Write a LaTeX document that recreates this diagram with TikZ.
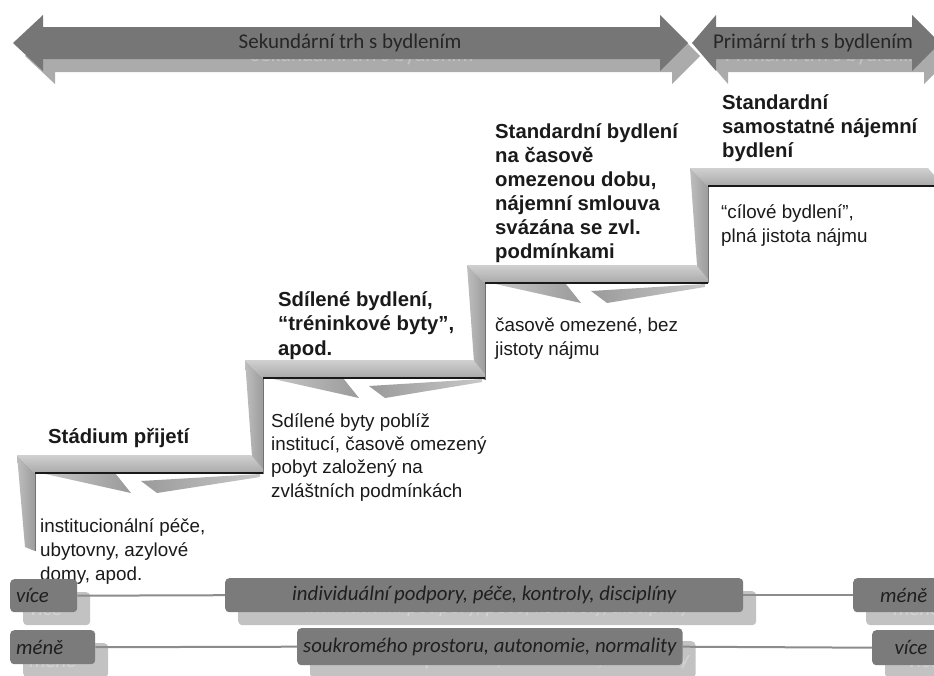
\documentclass[tikz,border=0pt]{standalone}
\usepackage{fontspec}
\setmainfont{Liberation Sans}
\newfontfamily\calib{Carlito}
\definecolor{arrdark}{HTML}{767676}
\definecolor{arrlight}{HTML}{ABABAB}
\definecolor{arrghost}{HTML}{C4C4C4}
\definecolor{boxdark}{HTML}{7B7B7B}
\definecolor{boxlight}{HTML}{C2C2C2}
\definecolor{boxghost}{HTML}{D4D4D4}
\definecolor{bandtop}{HTML}{D0D0D0}
\definecolor{bandbot}{HTML}{A9A9A9}
\definecolor{bartl}{HTML}{BEBEBE}
\definecolor{bartr}{HTML}{9C9C9C}
\definecolor{flapA}{HTML}{C8C8C8}
\definecolor{flapB}{HTML}{9A9A9A}
\definecolor{linegrey}{HTML}{8C8C8C}
\definecolor{txt}{HTML}{1A1A1A}
\newcommand\stairbar[4]{%
  \shade[left color=bartl, right color=bartr] (#1,#2) -- (#1+18,#2+18) -- (#1+18,#4) -- (#1+8,#4-4) -- cycle;}
\newcommand\stairband[3]{%
  \shade[top color=bandtop, bottom color=bandbot] (#1,#2) -- (#3-12,#2) -- (#3,#2+14) -- (#3,#2+18) -- (#1+18,#2+18) -- cycle;}
\newcommand\stairflaps[3]{%
  \shade[left color=flapA, right color=flapB] (#1+24,#2) -- (#1+98,#2) -- (#1+114,#2+20) -- cycle;
  \shade[left color=flapB, right color=flapA] (#1+124,#2+8) -- (#3-3,#2+1) -- (#3-3,#2+4) -- (#1+140,#2+20) -- cycle;}
\newcommand\stairline[4]{%
  \draw[edgeline, draw=black!55, line width=0.8pt] (#1+18,#4) -- (#1+18,#2+18);
  \draw[edgeline] (#1+18,#2+18) -- (#3,#2+18);}
\newcommand\dblarrow[5]{%
  \fill[#5] (#1,43) -- (#2,15) -- (#2,27) -- (#3,27) -- (#3,15) -- (#4,43) -- (#3,71) -- (#3,59) -- (#2,59) -- (#2,71) -- cycle;}
\begin{document}
\begin{tikzpicture}[x=1pt,y=-1pt,
  edgeline/.style={draw=black!90, line width=1.1pt},
  arrtext/.style={font=\calib\fontsize{21}{24}\selectfont, text=black!85, inner sep=0pt},
  ghosttext/.style={font=\calib\fontsize{21}{24}\selectfont, text=arrghost, inner sep=0pt},
  boldtext/.style={font=\bfseries\fontsize{20.3}{24}\selectfont, align=left, anchor=base west, inner sep=0pt, text=txt},
  regtext/.style={font=\fontsize{18.8}{24}\selectfont, align=left, anchor=base west, inner sep=0pt, text=txt},
  boxbase/.style={rounded corners=4pt, inner xsep=6pt, inner ysep=0pt, anchor=north west,
     font=\calib\itshape\fontsize{20.8}{22}\selectfont},
  mainbox/.style={boxbase, fill=boxdark, text=black!88},
  shadowbox/.style={boxbase, fill=boxlight, text=boxghost},
  conn/.style={draw=linegrey, line width=2pt}
]
\useasboundingbox (0,0) rectangle (934,675);
\clip (0,0) rectangle (934,675);
\fill[white] (0,0) rectangle (934,675);

% ---------- top arrows ----------
\begin{scope}[shift={(12,13)}]
  \dblarrow{692}{716}{912}{940}{arrlight}
  \node[ghosttext] (prims) at (813,43) {Primární trh s bydlením};
\end{scope}
\dblarrow{692}{716}{912}{940}{arrdark}
\node[arrtext] (prim) at (813,43) {Primární trh s bydlením};
\begin{scope}[shift={(12,13)}]
  \dblarrow{13}{43}{660}{688}{arrlight}
  \node[ghosttext] (seks) at (350,43) {Sekundární trh s bydlením};
\end{scope}
\dblarrow{13}{43}{660}{688}{arrdark}
\node[arrtext] (sek) at (350,43) {Sekundární trh s bydlením};

% ---------- staircase ----------
% step 4
\stairbar{690}{168}{940}{283}
\stairband{690}{168}{940}
\stairline{690}{168}{940}{283}
% step 3
\stairbar{467}{265}{708}{380}
\stairband{467}{265}{708}
\stairflaps{467}{283}{708}
\stairline{467}{265}{708}{380}
% step 2
\stairbar{245}{360}{485}{474}
\stairband{245}{360}{485}
\stairflaps{245}{378}{485}
\stairline{245}{360}{485}{474}
% step 1
\stairbar{17}{455}{263}{551}
\stairband{17}{455}{263}
\stairflaps{17}{473}{263}
\stairline{17}{455}{263}{551}

% ---------- texts (anchor = baseline of the last line) ----------
\node[boldtext] (t1) at (48,443) {Stádium přijetí};
\node[regtext, font=\fontsize{18.8}{24}\selectfont] (d1) at (40,580) {institucionální péče,\\ubytovny, azylové\\domy, apod.};
\node[boldtext, font=\bfseries\fontsize{20.3}{24.5}\selectfont] (t2) at (278,355) {Sdílené bydlení,\\“tréninkové byty”,\\apod.};
\node[regtext, font=\fontsize{18.8}{23.3}\selectfont] (d2) at (271,497) {Sdílené byty poblíž\\institucí, časově omezený\\pobyt založený na\\zvláštních podmínkách};
\node[boldtext] (t3) at (495,258) {Standardní bydlení\\na časově\\omezenou dobu,\\nájemní smlouva\\svázána se zvl.\\podmínkami};
\node[regtext] (d3) at (495,355) {časově omezené, bez\\jistoty nájmu};
\node[boldtext] (t4) at (722,157) {Standardní\\samostatné nájemní\\bydlení};
\node[regtext] (d4) at (721,242) {“cílové bydlení”,\\plná jistota nájmu};

% ---------- bottom rows ----------
% shadows
\node[shadowbox, minimum height=33pt, text width=55pt, align=left] (vice1s) at (23,592) {více};
\node[shadowbox, minimum height=34pt, minimum width=518pt, align=center] (mid1s) at (238,591) {individuální podpory, péče, kontroly, disciplíny};
\node[shadowbox, minimum height=34pt, text width=80pt, align=right] (mene1s) at (866,591) {méně\hspace*{12pt}};
\node[shadowbox, minimum height=34pt, text width=73pt, align=left] (mene2s) at (23,643) {méně};
\node[shadowbox, minimum height=37pt, minimum width=383pt, align=center] (mid2s) at (310,641) {soukromého prostoru, autonomie, normality};
\node[shadowbox, minimum height=35pt, text width=70pt, align=right] (vice2s) at (885,643) {více\hspace*{21pt}};
% main boxes
\node[mainbox, minimum height=33pt, text width=55pt, align=left] (vice1) at (10,579) {více};
\node[mainbox, minimum height=34pt, minimum width=518pt, align=center] (mid1) at (225,578) {individuální podpory, péče, kontroly, disciplíny};
\node[mainbox, minimum height=34pt, text width=80pt, align=right] (mene1) at (853,578) {méně\hspace*{12pt}};
\node[mainbox, minimum height=34pt, text width=73pt, align=left] (mene2) at (10,630) {méně};
\node[mainbox, minimum height=37pt, minimum width=383pt, align=center] (mid2) at (297,628) {soukromého prostoru, autonomie, normality};
\node[mainbox, minimum height=35pt, text width=70pt, align=right] (vice2) at (872,630) {více\hspace*{21pt}};
% connectors
\draw[conn] (vice1.east) -- (mid1.west);
\draw[conn] (mid1.east) -- (mene1.west);
\draw[conn] (mene2.east) -- (mid2.west);
\draw[conn] (mid2.east) -- (vice2.west);
\end{tikzpicture}
\end{document}
